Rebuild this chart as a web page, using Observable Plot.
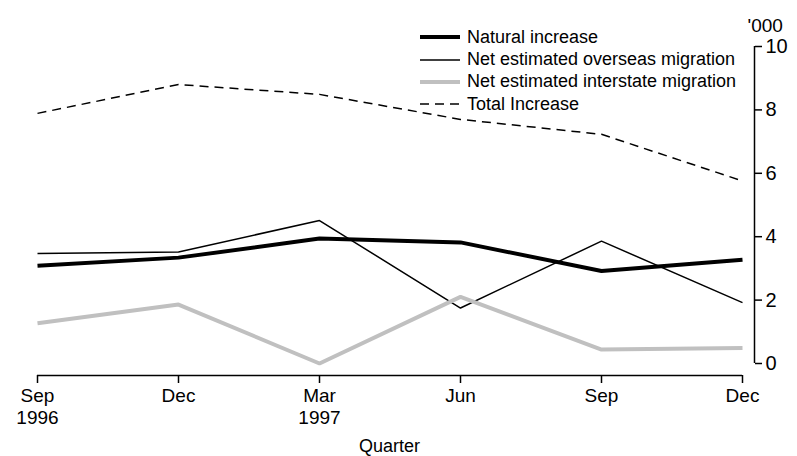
<!DOCTYPE html>
<html>
<head>
<meta charset="utf-8">
<script src="https://cdn.jsdelivr.net/npm/d3@7"></script>
<script src="https://cdn.jsdelivr.net/npm/@observablehq/plot@0.6"></script>
<style>
  html, body { margin: 0; padding: 0; background: #fff; }
  #wrap { position: relative; width: 797px; height: 456px; font-family: "Liberation Sans", Arial, sans-serif; }
  #legend { position: absolute; left: 420px; top: 26px; font-size: 18px; color: #000; }
  .row { display: flex; align-items: center; height: 22.4px; white-space: nowrap; }
  .row svg { margin-right: 7px; }
</style>
</head>
<body>
<div id="wrap"></div>
<script>
const quarters = ["Sep\n1996", "Dec\n1996", "Mar\n1997", "Jun\n1997", "Sep\n1997", "Dec\n1997"];
const tickLabels = ["Sep\n1996", "Dec", "Mar\n1997", "Jun", "Sep", "Dec"];
const naturalIncrease = [3.08, 3.34, 3.94, 3.82, 2.92, 3.27];
const overseasMigration = [3.47, 3.52, 4.51, 1.75, 3.86, 1.92];
const interstateMigration = [1.27, 1.86, 0.0, 2.10, 0.44, 0.49];
const totalIncrease = [7.89, 8.80, 8.49, 7.70, 7.23, 5.76];
const yTicks = [0, 2, 4, 6, 8, 10];
const seriesNames = ["Natural increase", "Net estimated overseas migration", "Net estimated interstate migration", "Total Increase"];

const styles = [
  {stroke: "#000", strokeWidth: 4, dash: null},
  {stroke: "#000", strokeWidth: 1.5, dash: null},
  {stroke: "#c0c0c0", strokeWidth: 4, dash: null},
  {stroke: "#000", strokeWidth: 1.5, dash: "9,6"}
];
const seriesValues = [naturalIncrease, overseasMigration, interstateMigration, totalIncrease];

const lineMarks = seriesValues.map((vals, k) =>
  Plot.line(vals, {
    x: (d, i) => quarters[i],
    y: d => d,
    stroke: styles[k].stroke,
    strokeWidth: styles[k].strokeWidth,
    strokeDasharray: styles[k].dash,
    strokeLinejoin: "miter",
    strokeLinecap: "butt"
  })
);

const firstQ = quarters[0];
const lastQ = quarters[quarters.length - 1];

const chart = Plot.plot({
  width: 797,
  height: 456,
  marginLeft: 36,
  marginRight: 55,
  marginTop: 46,
  marginBottom: 93,
  style: {fontFamily: "'Liberation Sans', Arial, sans-serif", background: "#fff", color: "#000"},
  x: {type: "point", domain: quarters, padding: 0},
  y: {domain: [0, 10]},
  marks: [
    Plot.axisX({
      anchor: "bottom",
      ticks: quarters,
      tickFormat: (d, i) => tickLabels[i],
      tickSize: 8,
      tickPadding: 2,
      dy: 12,
      fontSize: 19,
      lineHeight: 1.2,
      label: null,
      stroke: "#000",
      strokeWidth: 1.5
    }),
    Plot.axisY({
      anchor: "right",
      ticks: yTicks,
      tickSize: 7,
      tickPadding: 4,
      dx: 12,
      fontSize: 20,
      label: null,
      stroke: "#000",
      strokeWidth: 1.5
    }),
    Plot.ruleY([0], {x1: () => firstQ, x2: () => lastQ, y: d => d, dy: 12, stroke: "#000", strokeWidth: 1.5}),
    Plot.ruleX([lastQ], {x: d => d, y1: () => yTicks[0], y2: () => yTicks[yTicks.length - 1], dx: 12, stroke: "#000", strokeWidth: 1.5}),
    ...lineMarks,
    Plot.text(["'000"], {text: d => d, frameAnchor: "top-right", textAnchor: "start", dx: 5, dy: -28, fontSize: 19, fill: "#000"}),
    Plot.text(["Quarter"], {text: d => d, frameAnchor: "bottom", textAnchor: "middle", dy: 88, fontSize: 18, fill: "#000"})
  ]
});

const wrap = document.getElementById("wrap");
wrap.appendChild(chart);

const legend = document.createElement("div");
legend.id = "legend";
seriesNames.forEach((name, k) => {
  const row = document.createElement("div");
  row.className = "row";
  const s = styles[k];
  row.innerHTML = `<svg width="40" height="10"><line x1="0" x2="40" y1="5" y2="5" stroke="${s.stroke}" stroke-width="${s.strokeWidth}" ${s.dash ? `stroke-dasharray="${s.dash}"` : ""}/></svg><span>${name}</span>`;
  legend.appendChild(row);
});
wrap.appendChild(legend);
</script>
</body>
</html>
